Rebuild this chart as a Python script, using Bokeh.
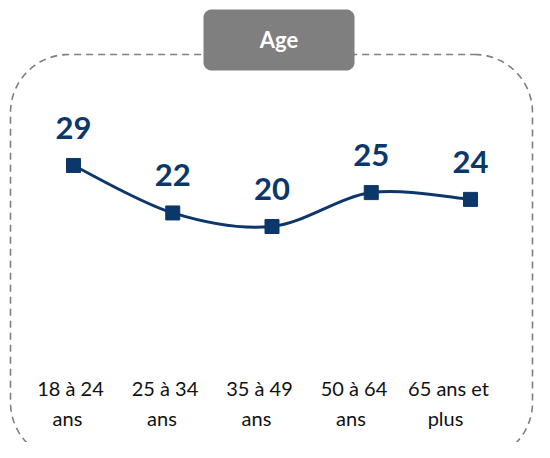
import numpy as np
from bokeh.plotting import figure
from bokeh.models import Range1d
from bokeh.core.properties import value
from bokeh.embed import file_html
from bokeh.resources import INLINE

# ---- data ----
title = "Age"
categories = ["18 à 24\nans", "25 à 34\nans", "35 à 49\nans", "50 à 64\nans", "65 ans et\nplus"]
values = [29, 22, 20, 25, 24]

# ---- layout (figure pixels) ----
W, H = 534, 442
OFF = 0
PX0, DX = 73.0, 99.25      # x of first category, pixels per category
PY0, DY = 361.6, 6.78      # y of value 0, pixels per unit

NAVY = "#0b376b"
GRAY = "#7f7f7f"
FONT = value("Lato")


def to_x(px):
    return (px - PX0) / DX


def to_y(py):
    return (PY0 - py) / DY


def rounded_rect(x0, y0, x1, y1, r, n=30):
    pts = []
    corners = [(x1 - r, y0 + r, -90, 0), (x1 - r, y1 - r, 0, 90),
               (x0 + r, y1 - r, 90, 180), (x0 + r, y0 + r, 180, 270)]
    for cx, cy, a0, a1 in corners:
        for a in np.linspace(np.radians(a0), np.radians(a1), n):
            pts.append((cx + r * np.cos(a), cy + r * np.sin(a)))
    pts.append(pts[0])
    xs = [to_x(px) for px, _ in pts]
    ys = [to_y(py) for _, py in pts]
    return xs, ys


p = figure(width=W, height=H, output_backend="svg", toolbar_location=None,
           x_range=Range1d(to_x(OFF), to_x(OFF + W)),
           y_range=Range1d(to_y(OFF + H), to_y(OFF)),
           x_axis_type=None, y_axis_type=None, min_border=0,
           outline_line_color=None, background_fill_color="white",
           border_fill_color="white")
p.grid.visible = False

# dashed rounded frame
bx, by = rounded_rect(10, 54, 532, 460, 58)
p.line(bx, by, line_color=GRAY, line_width=1.6, line_dash="7 5")

# title box
tx, ty = rounded_rect(203, 9, 354, 70, 8)
p.patch(tx, ty, fill_color=GRAY, line_color=None)
p.text([to_x(278.5)], [to_y(38.5)], text=[title], text_font=FONT,
       text_font_style="bold", text_font_size="22px", text_color="white",
       text_align="center", text_baseline="alphabetic")

# smooth line (Catmull-Rom -> cubic Bezier)
xi = list(range(len(values)))
P = [(float(x), float(v)) for x, v in zip(xi, values)]
x0s, y0s, x1s, y1s, cx0s, cy0s, cx1s, cy1s = ([] for _ in range(8))
for i in range(len(P) - 1):
    pm = P[i - 1] if i > 0 else P[i]
    p0, p1 = P[i], P[i + 1]
    pp = P[i + 2] if i + 2 < len(P) else P[i + 1]
    x0s.append(p0[0]); y0s.append(p0[1])
    x1s.append(p1[0]); y1s.append(p1[1])
    cx0s.append(p0[0] + (p1[0] - pm[0]) / 6); cy0s.append(p0[1] + (p1[1] - pm[1]) / 6)
    cx1s.append(p1[0] - (pp[0] - p0[0]) / 6); cy1s.append(p1[1] - (pp[1] - p0[1]) / 6)
p.bezier(x0=x0s, y0=y0s, x1=x1s, y1=y1s, cx0=cx0s, cy0=cy0s, cx1=cx1s, cy1=cy1s,
         line_color=NAVY, line_width=3)

p.scatter(xi, values, marker="square", size=14, fill_color=NAVY, line_color=NAVY)

p.text(xi, values, text=[str(v) for v in values], text_font=FONT,
       text_font_style="bold", text_font_size="31px", text_color=NAVY,
       text_align="center", text_baseline="alphabetic", y_offset=-37.5)

# category labels (two lines each)
LABEL_X0, LABEL_DX = 70.0, 94.5
line1 = [c.split("\n")[0] for c in categories]
line2 = [c.split("\n")[1] for c in categories]
lx = [to_x(LABEL_X0 + LABEL_DX * i) for i in range(len(categories))]
p.text(lx, [to_y(387)] * len(lx), text=line1, text_font=FONT, text_font_size="20px",
       text_color="#111111", text_align="center", text_baseline="alphabetic")
p.text(lx, [to_y(417)] * len(lx), text=line2, text_font=FONT, text_font_size="20px",
       text_color="#111111", text_align="center", text_baseline="alphabetic",
       x_offset=-3)

open("out.html", "w").write(file_html(p, INLINE))
